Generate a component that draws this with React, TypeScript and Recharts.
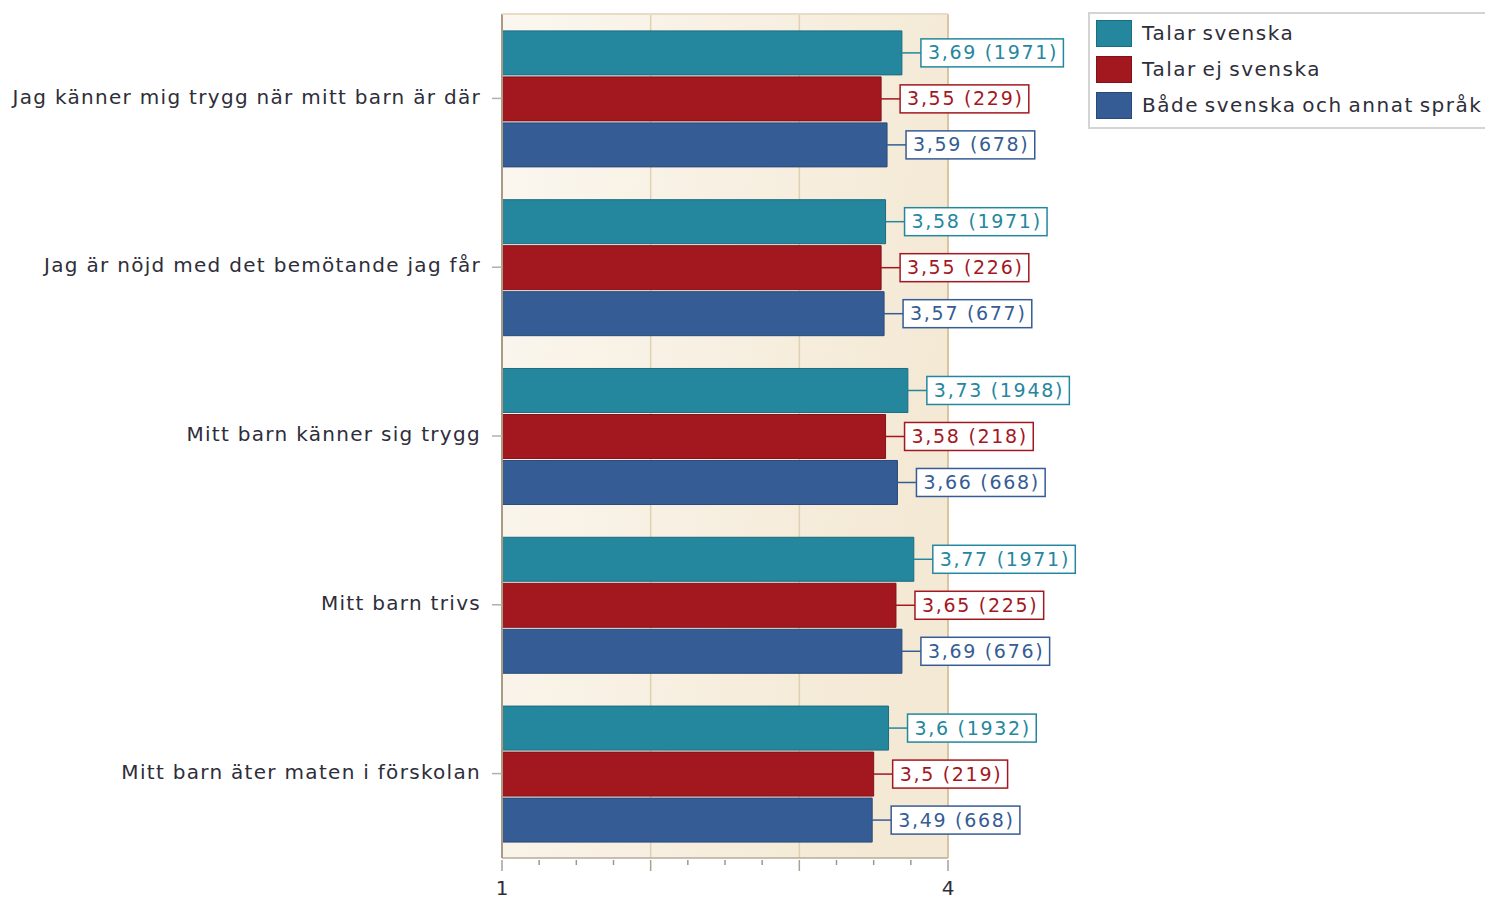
import React from 'react';
import { BarChart, Bar, XAxis, YAxis, LabelList, Legend, CartesianGrid } from 'recharts';

const categories = [
  'Jag känner mig trygg när mitt barn är där',
  'Jag är nöjd med det bemötande jag får',
  'Mitt barn känner sig trygg',
  'Mitt barn trivs',
  'Mitt barn äter maten i förskolan',
];
const talarSvenska = [3.69, 3.58, 3.73, 3.77, 3.6];
const talarSvenskaN = [1971, 1971, 1948, 1971, 1932];
const talarEjSvenska = [3.55, 3.55, 3.58, 3.65, 3.5];
const talarEjSvenskaN = [229, 226, 218, 225, 219];
const badaSprak = [3.59, 3.57, 3.66, 3.69, 3.49];
const badaSprakN = [678, 677, 668, 676, 668];
const xDomain = [1, 4];
const xTicks = [1, 1.25, 1.5, 1.75, 2, 2.25, 2.5, 2.75, 3, 3.25, 3.5, 3.75, 4];
const xTickLabels = ['1', '', '', '', '', '', '', '', '', '', '', '', '4'];
const majorTicks = [1, 2, 3, 4];
const innerGridValues = [2, 3];
const borderGridValues = [4];
const seriesNames = ['Talar svenska', 'Talar ej svenska', 'Både svenska och annat språk'];
const seriesColors = ['#24879E', '#A3171F', '#355C94'];
const seriesStrokes = ['#1C6C80', '#80121A', '#294A78'];

const data = categories.map((name, i) => ({
  name,
  a: talarSvenska[i],
  b: talarEjSvenska[i],
  c: badaSprak[i],
}));
const counts = [talarSvenskaN, talarEjSvenskaN, badaSprakN];

const FONT = '"DejaVu Sans", Verdana, sans-serif';
const LBL_FS = 19;
const LBL_LS = 1.7;
const charW: Record<string, number> = { ',': 0.318, ' ': 0.318, '(': 0.39, ')': 0.39, '.': 0.318 };
function estWidth(s: string) {
  let w = 0;
  for (const ch of s) w += (charW[ch] ?? 0.636) * LBL_FS + LBL_LS;
  return w - LBL_LS;
}

function makeLabel(si: number) {
  return (props: any) => {
    const { x, y, width, height, value, index } = props;
    const txt = String(value).replace('.', ',') + ' (' + counts[si][index] + ')';
    const x0 = Number(x) + Number(width);
    const cy = Number(y) + Number(height) / 2;
    const tw = estWidth(txt);
    const bx = x0 + 19;
    const bw = tw + 14;
    const bh = 28;
    return (
      <g>
        <line x1={x0} y1={cy} x2={bx} y2={cy} stroke={seriesColors[si]} strokeWidth={1.5} />
        <rect x={bx} y={cy - bh / 2} width={bw} height={bh} fill="#ffffff" stroke={seriesColors[si]} strokeWidth={1.5} />
        <text x={bx + 7} y={cy + 1} dominantBaseline="middle" fill={seriesColors[si]} fontSize={LBL_FS} fontFamily={FONT} letterSpacing={LBL_LS}>
          {txt}
        </text>
      </g>
    );
  };
}

const XTick = (props: any) => {
  const { x, y, payload } = props;
  const v = payload.value;
  const major = majorTicks.includes(v);
  const idx = xTicks.indexOf(v);
  const label = idx >= 0 ? xTickLabels[idx] : '';
  return (
    <g>
      <line x1={x} y1={y} x2={x} y2={y + (major ? 11 : 5)} stroke={major ? '#A9A294' : '#9C9890'} strokeWidth={1.5} />
      {label && (
        <text x={x} y={y + 35} textAnchor="middle" fill="#2E2E3A" fontSize={20} fontFamily={FONT}>
          {label}
        </text>
      )}
    </g>
  );
};

function gridGen(values: number[]) {
  return (props: any) => {
    const xa = props && props.xAxis;
    if (xa && typeof xa.scale === 'function') return values.map((v) => xa.scale(v));
    const off = props.offset;
    return values.map((v) => off.left + ((v - xDomain[0]) / (xDomain[1] - xDomain[0])) * off.width);
  };
}

const LegendContent = () => (
  <div
    style={{
      border: '2px solid #D4D4D4',
      borderRight: 'none',
      background: '#fff',
      width: 397,
      height: 117,
      boxSizing: 'border-box',
      paddingTop: 1,
      paddingLeft: 6,
      fontFamily: FONT,
    }}
  >
    {seriesNames.map((n, i) => (
      <div key={n} style={{ display: 'flex', alignItems: 'center', height: 36 }}>
        <div
          style={{
            width: 36,
            height: 27,
            background: seriesColors[i],
            border: '1px solid ' + seriesStrokes[i],
            boxSizing: 'border-box',
            marginRight: 10,
          }}
        />
        <span style={{ fontSize: 20, color: '#2E2E3A', letterSpacing: 1.5, wordSpacing: -2, whiteSpace: 'nowrap' }}>{n}</span>
      </div>
    ))}
  </div>
);

export default function App() {
  return (
    <div style={{ position: 'absolute', left: 0, top: 0, width: 1485, height: 900, background: '#fff' }}>
      <BarChart
        width={1485}
        height={900}
        data={data}
        layout="vertical"
        margin={{ top: 14, right: 537, bottom: 0, left: 0 }}
        barCategoryGap="10%"
        barGap={2}
      >
        <defs>
          <linearGradient id="bgGrad" x1="0" y1="0" x2="1" y2="0.3">
            <stop offset="0%" stopColor="#FBF7F0" />
            <stop offset="100%" stopColor="#F4E9D5" />
          </linearGradient>
        </defs>
        <CartesianGrid horizontal={false} vertical fill="url(#bgGrad)" fillOpacity={1} stroke="#E0D1B0" strokeWidth={1.5} verticalCoordinatesGenerator={gridGen(innerGridValues)} />
        <CartesianGrid horizontal={false} vertical stroke="#D8C6A0" strokeWidth={2} verticalCoordinatesGenerator={gridGen(borderGridValues)} />
        <XAxis
          type="number"
          domain={xDomain}
          ticks={xTicks}
          interval={0}
          height={42}
          tickSize={0}
          tickLine={false}
          tick={<XTick />}
          axisLine={{ stroke: '#B5AC9C', strokeWidth: 1.5 }}
          allowDataOverflow
        />
        <YAxis
          type="category"
          dataKey="name"
          width={502}
          tickSize={10}
          tickMargin={11}
          tick={{ fill: '#2E2E3A', fontSize: 20, fontFamily: FONT, letterSpacing: 1.3, dy: -2 }}
          tickLine={{ stroke: '#B0B0B0', strokeWidth: 1.5 }}
          axisLine={{ stroke: '#A89C84', strokeWidth: 2 }}
        />
        <Legend layout="vertical" align="center" verticalAlign="middle" wrapperStyle={{ position: 'absolute', left: 1088, top: 12, width: 397, height: 117 }} content={<LegendContent />} />
        <Bar dataKey="a" name={seriesNames[0]} fill={seriesColors[0]} stroke={seriesStrokes[0]} strokeWidth={1} isAnimationActive={false}>
          <LabelList dataKey="a" content={makeLabel(0)} />
        </Bar>
        <Bar dataKey="b" name={seriesNames[1]} fill={seriesColors[1]} stroke={seriesStrokes[1]} strokeWidth={1} isAnimationActive={false}>
          <LabelList dataKey="b" content={makeLabel(1)} />
        </Bar>
        <Bar dataKey="c" name={seriesNames[2]} fill={seriesColors[2]} stroke={seriesStrokes[2]} strokeWidth={1} isAnimationActive={false}>
          <LabelList dataKey="c" content={makeLabel(2)} />
        </Bar>
      </BarChart>
      <div style={{ position: 'absolute', left: 502, top: 13, width: 446, height: 1.5, background: '#E8DCC4' }} />
    </div>
  );
}
